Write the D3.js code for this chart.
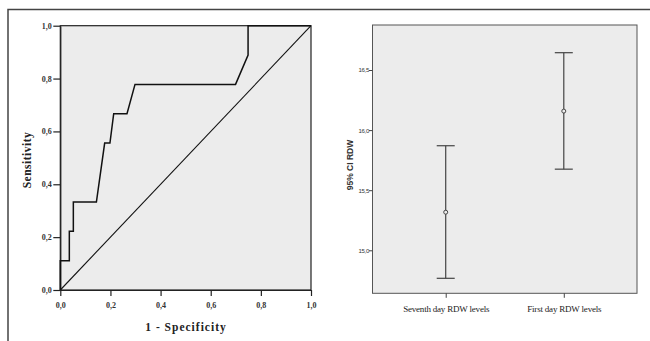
<!DOCTYPE html>
<html><head><meta charset="utf-8">
<script src="https://cdn.jsdelivr.net/npm/d3@7"></script>
<style>body{margin:0;background:#fff}svg{display:block}</style>
</head><body>
<svg id="c" width="650" height="341"></svg>
<script>
// ROC curve data (1 - specificity, sensitivity)
const rocFpr = [0, 0, 0.036, 0.036, 0.052, 0.052, 0.144, 0.177, 0.198, 0.213, 0.266, 0.298, 0.699, 0.749, 0.749, 1.0];
const rocTpr = [0, 0.111, 0.111, 0.222, 0.222, 0.333, 0.333, 0.556, 0.556, 0.667, 0.667, 0.778, 0.778, 0.889, 1.0, 1.0];
const rocTicks = [0, 0.2, 0.4, 0.6, 0.8, 1.0];
// Error bar data
const groups = ["Seventh day RDW levels", "First day RDW levels"];
const means = [15.317, 16.158];
const lower = [14.767, 15.675];
const upper = [15.87, 16.644];
const rdwTicks = [15.0, 15.5, 16.0, 16.5];

const svg = d3.select("#c");
const fmt = d => d.toFixed(1).replace(".", ",");

// outer frame
svg.append("path").attr("d","M8,341 V9.5 H650").attr("fill","none").attr("stroke","#444").attr("stroke-width",1.5);

// ---- Left ROC panel ----
const x = d3.scaleLinear().domain([0,1]).range([60.3,311]);
const y = d3.scaleLinear().domain([0,1]).range([290,25.7]);
const L = svg.append("g");
L.append("rect").attr("x",x(0)).attr("y",y(1)).attr("width",x(1)-x(0)).attr("height",y(0)-y(1))
 .attr("fill","#ececec").attr("stroke","#222").attr("stroke-width",1.2);
const ax = L.append("g").attr("transform",`translate(0,${y(0)})`)
 .call(d3.axisBottom(x).tickValues(rocTicks).tickFormat(fmt).tickSize(6).tickSizeOuter(0));
const ay = L.append("g").attr("transform",`translate(${x(0)},0)`)
 .call(d3.axisLeft(y).tickValues(rocTicks).tickFormat(fmt).tickSize(7).tickSizeOuter(0));
[ax,ay].forEach(a=>{
  a.select(".domain").attr("stroke","#222").attr("stroke-width",1.2);
  a.selectAll(".tick line").attr("stroke","#222").attr("stroke-width",1.2);
  a.selectAll("text").attr("font-family","Liberation Serif").attr("font-weight","bold").attr("font-size",8).attr("fill","#333");
});
ax.selectAll("text").attr("dy","1.1em");
ay.selectAll("text").attr("x",-8.5);
L.append("line").attr("x1",x(0)).attr("y1",y(0)).attr("x2",x(1)).attr("y2",y(1)).attr("stroke","#111").attr("stroke-width",1.1);
const roc = rocFpr.map((f,i)=>[f,rocTpr[i]]);
L.append("path").datum(roc).attr("d",d3.line().x(d=>x(d[0])).y(d=>y(d[1])))
 .attr("fill","none").attr("stroke","#111").attr("stroke-width",1.5);
L.append("text").attr("x",186).attr("y",330.5).attr("text-anchor","middle")
 .attr("font-family","Liberation Serif").attr("font-weight","bold").attr("font-size",11.5).attr("letter-spacing",1).attr("fill","#222")
 .text("1 - Specificity");
L.append("text").attr("transform","translate(31,160) rotate(-90)").attr("text-anchor","middle")
 .attr("font-family","Liberation Serif").attr("font-weight","bold").attr("font-size",11.5).attr("letter-spacing",0.5).attr("fill","#222")
 .text("Sensitivity");

// ---- Right error bar panel ----
const R = svg.append("g");
const xr = d3.scalePoint().domain(groups).range([372.5,637]).padding(0.62);
const yr = d3.scaleLinear().domain([15,16.5]).range([250.3,70]);
const yTop = 25, yBot = 293.3;
R.append("rect").attr("x",372.5).attr("y",yTop).attr("width",637-372.5).attr("height",yBot-yTop)
 .attr("fill","#ececec").attr("stroke","#555").attr("stroke-width",1);
const rx = R.append("g").attr("transform",`translate(0,${yBot})`)
 .call(d3.axisBottom(xr).tickSize(4.5).tickSizeOuter(0));
rx.select(".domain").remove();
rx.selectAll(".tick line").attr("stroke","#444");
rx.selectAll("text").attr("font-family","Liberation Serif").attr("font-size",9).attr("letter-spacing",-0.2).attr("fill","#222").attr("dy","1.25em");
const ry = R.append("g").attr("transform",`translate(372.5,0)`)
 .call(d3.axisLeft(yr).tickValues(rdwTicks).tickFormat(fmt).tickSize(3.5).tickSizeOuter(0));
ry.select(".domain").remove();
ry.selectAll(".tick line").attr("stroke","#444");
ry.selectAll("text").attr("font-family","Liberation Sans").attr("font-size",6).attr("fill","#333").attr("x",-3.5).attr("letter-spacing",-0.3);
R.append("text").attr("transform","translate(353,165) rotate(-90)").attr("text-anchor","middle")
 .attr("font-family","Liberation Sans").attr("font-weight","bold").attr("font-size",8.5).attr("fill","#333")
 .text("95% CI RDW");
groups.forEach((g,i)=>{
  const cx = xr(g);
  R.append("line").attr("x1",cx).attr("x2",cx).attr("y1",yr(lower[i])).attr("y2",yr(upper[i])).attr("stroke","#444").attr("stroke-width",1.2);
  [lower[i],upper[i]].forEach(v=>R.append("line").attr("x1",cx-9).attr("x2",cx+9).attr("y1",yr(v)).attr("y2",yr(v)).attr("stroke","#444").attr("stroke-width",1.2));
  R.append("circle").attr("cx",cx).attr("cy",yr(means[i])).attr("r",2).attr("fill","#ececec").attr("stroke","#444").attr("stroke-width",1);
});
</script>
</body></html>
